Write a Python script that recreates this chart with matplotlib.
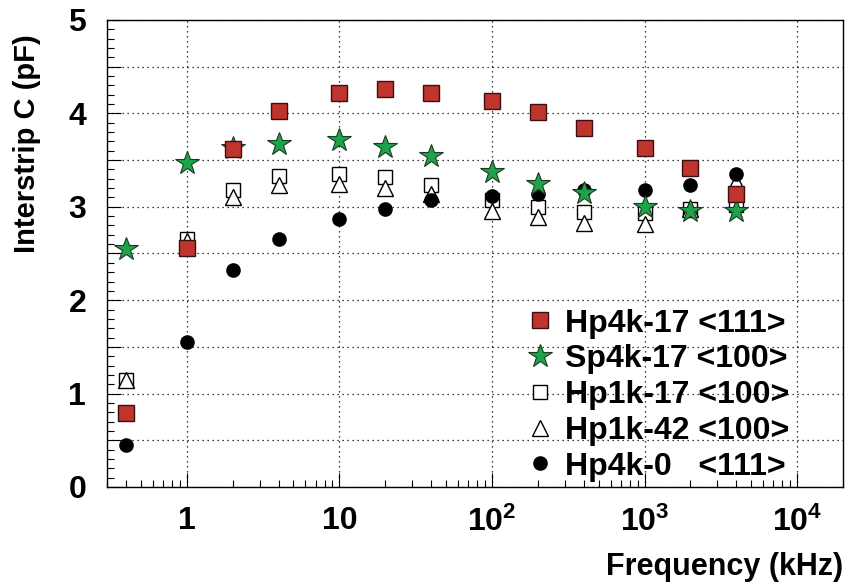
import matplotlib
matplotlib.use("Agg")
import matplotlib.pyplot as plt
from matplotlib.ticker import FixedLocator, LogLocator, NullFormatter, FixedFormatter, MultipleLocator

plt.rcParams['font.family'] = ['Liberation Sans', 'DejaVu Sans']
plt.rcParams['font.weight'] = 'bold'
plt.rcParams['mathtext.fontset'] = 'custom'
plt.rcParams['mathtext.rm'] = 'Liberation Sans:bold'
plt.rcParams['mathtext.bf'] = 'Liberation Sans:bold'
plt.rcParams['mathtext.it'] = 'Liberation Sans:bold'

# 周波数 (kHz)
freq = [0.4, 1, 2, 4, 10, 20, 40, 100, 200, 400, 1000, 2000, 4000]

# 各サンプルの容量 (pF)
hp4k_17 = [0.79, 2.56, 3.62, 4.03, 4.22, 4.26, 4.22, 4.13, 4.02, 3.84, 3.63, 3.41, 3.14]
sp4k_17 = [2.55, 3.47, 3.63, 3.67, 3.71, 3.64, 3.54, 3.37, 3.24, 3.15, 3.00, 2.95, 2.95]
hp1k_17 = [1.15, 2.65, 3.18, 3.33, 3.35, 3.32, 3.23, 3.07, 3.00, 2.94, 2.93, 2.98, 3.02]
hp1k_42 = [1.15, 2.63, 3.11, 3.23, 3.24, 3.20, 3.14, 2.96, 2.89, 2.83, 2.82, 2.98, 3.27]
hp4k_0 = [0.45, 1.55, 2.32, 2.65, 2.87, 2.98, 3.07, 3.12, 3.14, 3.18, 3.18, 3.23, 3.35]

labels = ["Hp4k-17 <111>", "Sp4k-17 <100>", "Hp1k-17 <100>", "Hp1k-42 <100>", "Hp4k-0   <111>"]

red = "#c0342e"
green = "#1fa34a"

fig = plt.figure(figsize=(8.47, 5.83), dpi=100)
ax = fig.add_axes([0.1263, 0.1647, 0.869, 0.801])

l3, = ax.plot(freq, hp1k_17, ls='none', marker='s', ms=10, mfc='white', mec='black', mew=1.0, zorder=3)
l4, = ax.plot(freq, hp1k_42, ls='none', marker='^', ms=11, mfc='white', mec='black', mew=1.0, zorder=4)
l5, = ax.plot(freq, hp4k_0, ls='none', marker='o', ms=9.5, mfc='black', mec='black', mew=1.0, zorder=5)
l2, = ax.plot(freq, sp4k_17, ls='none', marker='*', ms=17.5, mfc=green, mec='#1a3a20', mew=0.8, zorder=6)
l1, = ax.plot(freq, hp4k_17, ls='none', marker='s', ms=11, mfc=red, mec='#3a1010', mew=1.0, zorder=7)

ax.set_xscale('log')
ax.set_xlim(0.3, 2e4)
ax.set_ylim(0, 5)

# 目盛り
ax.xaxis.set_major_locator(FixedLocator([1, 10, 100, 1000, 10000]))
ax.xaxis.set_major_formatter(FixedFormatter(["1", "10", r"$10^{2}$", r"$10^{3}$", r"$10^{4}$"]))
ax.xaxis.set_minor_locator(LogLocator(base=10, subs=range(2, 10), numticks=20))
ax.xaxis.set_minor_formatter(NullFormatter())

ax.set_yticks([0, 0.5, 1, 1.5, 2, 2.5, 3, 3.5, 4, 4.5, 5])
ax.set_yticklabels(["0", "", "1", "", "2", "", "3", "", "4", "", "5"])
ax.yaxis.set_minor_locator(MultipleLocator(0.1))

ax.tick_params(axis='both', which='both', direction='in', top=False, right=False, colors='black')
ax.tick_params(axis='both', which='major', length=10, width=0.8, labelsize=23, pad=14)
ax.tick_params(axis='y', which='major', pad=15)
ax.tick_params(axis='both', which='minor', length=5, width=0.8)

ax.grid(True, which='major', ls=(0, (1, 3)), color='black', lw=0.9)

for s in ax.spines.values():
    s.set_linewidth(1.0)

ax.set_xlabel("Frequency (kHz)", fontsize=22, fontweight='bold', loc='right')
ax.xaxis.set_label_coords(1.0, -0.14)
ax.set_ylabel("Interstrip C (pF)", fontsize=21, fontweight='bold', loc='top')
ax.yaxis.set_label_coords(-0.09, 0.97)

leg = ax.legend([l1, l2, l3, l4, l5], labels, loc='upper left', bbox_to_anchor=(0.571, 0.382),
                frameon=False, fontsize=23, handlelength=0.8, handletextpad=0.38,
                labelspacing=0.18, borderpad=0, borderaxespad=0)
for t in leg.get_texts():
    t.set_fontweight('bold')

fig.savefig("out.png", dpi=100)
